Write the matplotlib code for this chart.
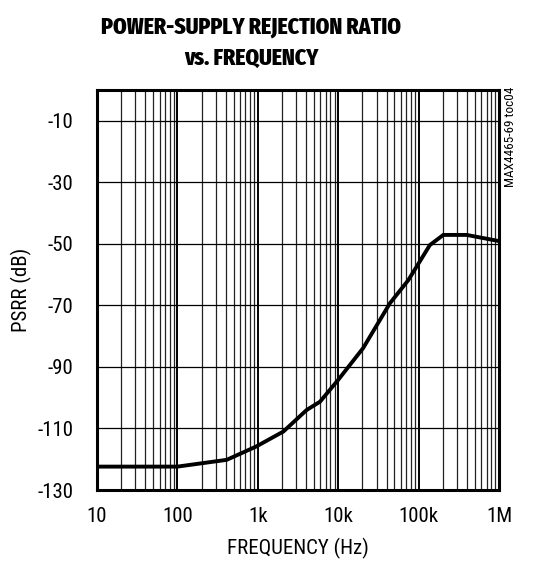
import matplotlib
matplotlib.use("Agg")
import matplotlib.pyplot as plt
from matplotlib.ticker import FixedLocator, LogLocator, NullFormatter
from matplotlib import font_manager

# PSRR curve
freq_hz = [10, 100, 410, 950, 2080, 4050, 5940, 10000, 20400, 44000, 74500,
           138000, 203000, 396000, 1000000]
psrr_db = [-122.4, -122.4, -120.2, -115.9, -111.0, -104.0, -101.3, -94.2,
           -83.9, -69.3, -61.8, -50.4, -47.1, -47.1, -49.1]

x_ticks = [10, 100, 1e3, 1e4, 1e5, 1e6]
x_labels = ["10", "100", "1k", "10k", "100k", "1M"]
y_ticks = [-130, -110, -90, -70, -50, -30, -10]

names = {f.name for f in font_manager.fontManager.ttflist}


def pick(*cands):
    for c in cands:
        if c in names:
            return c
    return "DejaVu Sans"


body_font = pick("Roboto Condensed", "Archivo Narrow", "Liberation Sans")
title_font = pick("Fira Sans Extra Condensed", "Barlow Condensed", "Roboto Condensed")
plt.rcParams["font.family"] = [body_font, "DejaVu Sans"]

fig = plt.figure(figsize=(5.37, 5.79), dpi=100)
ax = fig.add_axes([97 / 537, 89 / 579, 402 / 537, 400 / 579])

ax.set_xscale("log")
ax.set_xlim(10, 1e6)
ax.set_ylim(-130, 0)

ax.xaxis.set_major_locator(FixedLocator(x_ticks))
ax.set_xticklabels(x_labels)
ax.xaxis.set_minor_locator(LogLocator(base=10, subs=range(2, 10), numticks=20))
ax.xaxis.set_minor_formatter(NullFormatter())
ax.set_yticks(y_ticks)
ax.set_yticklabels([str(v) for v in y_ticks])

ax.grid(which="major", axis="x", color="black", linewidth=1.4)
ax.grid(which="minor", axis="x", color="#222222", linewidth=0.9)
ax.grid(which="major", axis="y", color="black", linewidth=0.9)
ax.tick_params(which="both", length=0, labelsize=15)
ax.tick_params(axis="y", pad=17)
ax.tick_params(axis="x", pad=12)

for sp in ax.spines.values():
    sp.set_linewidth(2.2)

ax.plot(freq_hz, psrr_db, color="black", linewidth=2.8, solid_joinstyle="miter")

ax.set_xlabel("FREQUENCY (Hz)", fontsize=15, labelpad=9)
ax.set_ylabel("PSRR (dB)", fontsize=15, labelpad=4)

title_kw = dict(ha="center", va="center", fontsize=17, fontweight=800,
                family=[title_font, "DejaVu Sans"])
fig.text(251 / 537, 1 - 27 / 579, "POWER-SUPPLY REJECTION RATIO", **title_kw)
fig.text(251 / 537, 1 - 58 / 579, "vs. FREQUENCY", **title_kw)
fig.text(510 / 537, 1 - 137 / 579, "MAX4465-69 toc04", rotation=90,
         ha="center", va="center", fontsize=9.5)

fig.savefig("out.png", dpi=100)
